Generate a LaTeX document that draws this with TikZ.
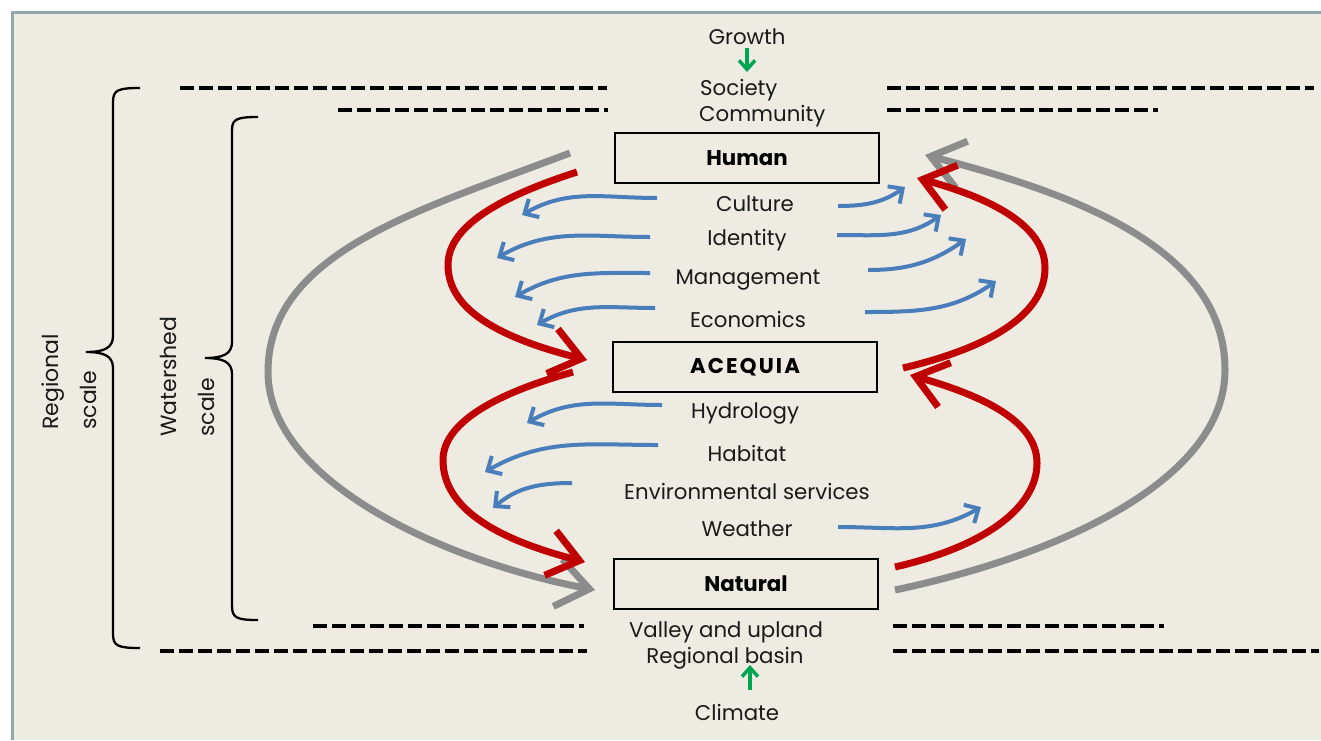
\documentclass[tikz,border=0pt]{standalone}
\usepackage{fontspec}
\setmainfont{Poppins}
\usetikzlibrary{arrows.meta}
\definecolor{bg}{HTML}{EEEBE2}
\definecolor{framec}{HTML}{93A6AE}
\definecolor{redA}{HTML}{C00000}
\definecolor{grayA}{HTML}{8C8C8C}
\definecolor{blueA}{HTML}{4A7EBB}
\definecolor{greenA}{HTML}{00A550}
\definecolor{txt}{HTML}{1A1A1A}
\begin{document}
\begin{tikzpicture}[x=1pt,y=-1pt,
  lbl/.style={font=\fontsize{21.3}{24}\selectfont, text=txt, inner sep=0pt},
  sidelbl/.style={font=\fontsize{22}{38}\selectfont, text=txt, inner sep=0pt, rotate=90, align=left, anchor=west},
  boxnode/.style={draw, line width=1.5pt, minimum width=264pt, minimum height=50pt, font=\fontsize{21.3}{24}\selectfont\bfseries, inner sep=0pt},
  redarr/.style={draw=redA, line width=7pt, -{Straight Barb[length=30pt,width=46pt]}},
  grayarr/.style={draw=grayA, line width=7pt, -{Straight Barb[length=32pt,width=48pt]}},
  bluearr/.style={draw=blueA, line width=4pt, -{Straight Barb[length=11pt,width=21pt]}},
  greenarr/.style={draw=greenA, line width=3.5pt, -{Straight Barb[length=9pt,width=16pt]}},
  dashline/.style={draw=black, line width=4pt, dash pattern=on 14pt off 5pt},
  bracestyle/.style={draw=black, line width=2.3pt},
]
\useasboundingbox (0,0) rectangle (1321,740);
\fill[white] (0,0) rectangle (1321,740);
\fill[bg] (12,12) rectangle (1321,740);
\draw[framec, line width=3pt] (12,740) -- (12,12) -- (1321,12);

% dashed scale lines
\draw[dashline] (180,88) -- (607,88);
\draw[dashline] (887,88) -- (1314,88);
\draw[dashline] (338,110) -- (608,110);
\draw[dashline] (887,110) -- (1158,110);
\draw[dashline] (313,626) -- (584,626);
\draw[dashline] (893,626) -- (1164,626);
\draw[dashline] (160,651) -- (587,651);
\draw[dashline] (893,651) -- (1319,651);

% braces
\draw[bracestyle] (140,88) .. controls (118,88) and (113,90) .. (113,102) -- (113,336)
  .. controls (113,348) and (104,352) .. (86,352) .. controls (104,352) and (113,356) .. (113,368)
  -- (113,634) .. controls (113,646) and (118,648) .. (140,648);
\draw[bracestyle] (258,117) .. controls (237,117) and (232,119) .. (232,130) -- (232,342)
  .. controls (232,354) and (223,358) .. (205,358) .. controls (223,358) and (232,362) .. (232,374)
  -- (232,606) .. controls (232,618) and (237,620) .. (258,620);
\node[sidelbl] (regional) at (69,430) {Regional\\scale};
\node[sidelbl] (watershed) at (187,437) {Watershed\\scale};

% boxes
\node[boxnode] (human) at (747,158) {Human};
\node[boxnode] (acequia) at (745,367) {\addfontfeature{LetterSpace=10}ACEQUIA};
\node[boxnode] (natural) at (746,584) {Natural};

% labels
\node[lbl] (growth) at (747,37) {Growth};
\node[lbl, anchor=west] (society) at (700,90) {Society};
\node[lbl, anchor=west] (community) at (699,116) {Community};
\node[lbl] (culture) at (755,204) {Culture};
\node[lbl] (identity) at (747,240) {Identity};
\node[lbl] (management) at (748,280) {Management};
\node[lbl] (economics) at (748,319) {Economics};
\node[lbl] (hydrology) at (745,413) {Hydrology};
\node[lbl] (habitat) at (747,453) {Habitat};
\node[lbl] (envserv) at (747,491) {Environmental services};
\node[lbl] (weather) at (747,529) {Weather};
\node[lbl] (valley) at (726,632) {Valley and upland};
\node[lbl] (basin) at (725,658) {Regional basin};
\node[lbl] (climate) at (737,712) {Climate};

% green arrows
\coordinate (gtop) at (747,72);
\coordinate (gbot) at (750,665);
\draw[greenarr] (747,48) -- (gtop);
\draw[greenarr] (750,690) -- (gbot);

% gray arrows
\coordinate (gL1) at (570,153);
\coordinate (gL2) at (595,590);
\coordinate (gR1) at (895,590);
\coordinate (gR2) at (925,155);
\draw[grayarr] (gL1) .. controls (420,210) and (268,252) .. (268,372)
  .. controls (268,480) and (440,560) .. (gL2);
\draw[grayarr] (gR1) .. controls (1060,555) and (1225,480) .. (1225,370)
  .. controls (1225,250) and (1080,195) .. (gR2);

% red arrows
\coordinate (r1a) at (577,172);
\coordinate (r1b) at (587,360);
\coordinate (r2a) at (573,372);
\coordinate (r2b) at (585,562);
\coordinate (r3a) at (895,567);
\coordinate (r3b) at (910,375);
\coordinate (r4a) at (903,368);
\coordinate (r4b) at (917,178);
\draw[redarr] (r1a) .. controls (490,200) and (448,230) .. (448,265)
  .. controls (448,310) and (500,338) .. (r1b);
\draw[redarr] (r2a) .. controls (490,395) and (443,425) .. (443,460)
  .. controls (443,510) and (500,540) .. (r2b);
\draw[redarr] (r3a) .. controls (990,545) and (1037,505) .. (1037,463)
  .. controls (1037,420) and (980,395) .. (r3b);
\draw[redarr] (r4a) .. controls (1000,345) and (1045,310) .. (1045,268)
  .. controls (1045,225) and (990,198) .. (r4b);

% blue arrows, left
\draw[bluearr] (657,198) to[out=180,in=30] (522,215);
\draw[bluearr] (650,237) to[out=180,in=30] (497,258);
\draw[bluearr] (650,273) to[out=180,in=30] (515,297);
\draw[bluearr] (655,308) to[out=180,in=30] (537,325);
\draw[bluearr] (662,405) to[out=180,in=30] (527,423);
\draw[bluearr] (658,445) to[out=180,in=30] (485,472);
\draw[bluearr] (572,483) to[out=180,in=40] (493,508);
% blue arrows, right
\draw[bluearr] (838,206) to[out=0,in=215] (905,187);
\draw[bluearr] (837,235) to[out=0,in=215] (941,215);
\draw[bluearr] (868,270) to[out=0,in=215] (966,239);
\draw[bluearr] (865,312) to[out=0,in=215] (996,281);
\draw[bluearr] (838,527) to[out=0,in=210] (981,507);
\end{tikzpicture}
\end{document}
